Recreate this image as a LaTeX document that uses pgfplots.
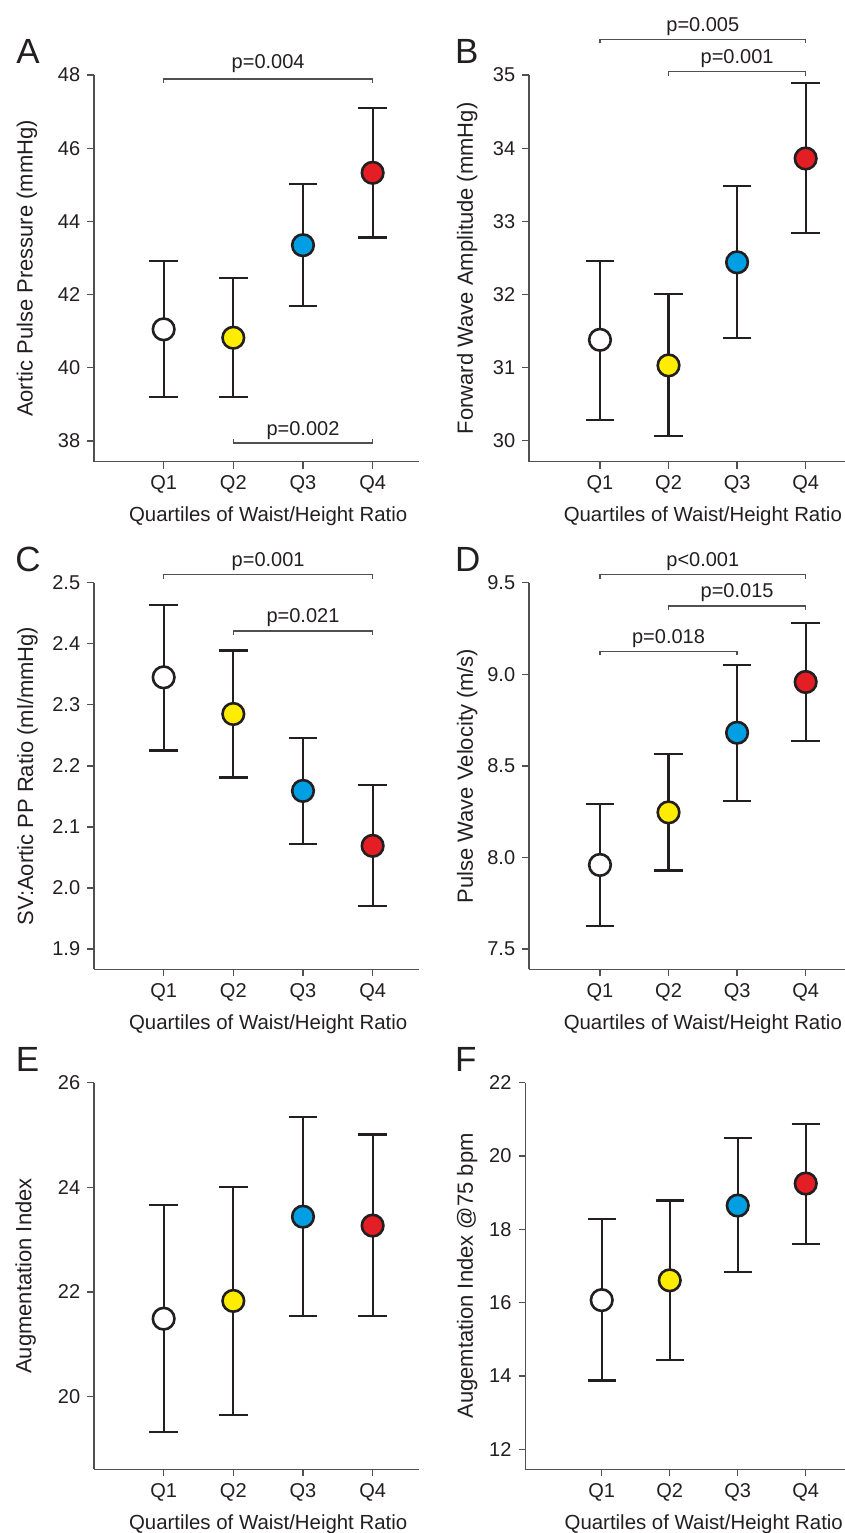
\documentclass[border=0pt]{standalone}
\usepackage{fontspec}
\setmainfont{Liberation Sans}
\usepackage{pgfplots}
\usepackage{pgfplotstable}
\pgfplotsset{compat=1.18}

\definecolor{ink}{RGB}{35,31,32}
\definecolor{axcol}{RGB}{80,80,80}
\definecolor{qyellow}{RGB}{255,237,0}
\definecolor{qblue}{RGB}{0,159,227}
\definecolor{qred}{RGB}{227,30,36}

% mean, upper and lower end of the bar, quartile class
\pgfplotstableread{
x y hi lo c
1 41.05 42.91 39.19 q1
2 40.82 42.46 39.19 q2
3 43.35 45.03 41.68 q3
4 45.33 47.10 43.56 q4
}\tabA
\pgfplotstableread{
x y hi lo c
1 31.38 32.46 30.28 q1
2 31.03 32.01 30.06 q2
3 32.44 33.48 31.40 q3
4 33.86 34.89 32.84 q4
}\tabB
\pgfplotstableread{
x y hi lo c
1 2.345 2.464 2.225 q1
2 2.285 2.389 2.181 q2
3 2.159 2.245 2.072 q3
4 2.069 2.168 1.970 q4
}\tabC
\pgfplotstableread{
x y hi lo c
1 7.959 8.290 7.626 q1
2 8.246 8.563 7.929 q2
3 8.681 9.052 8.308 q3
4 8.958 9.280 8.634 q4
}\tabD
\pgfplotstableread{
x y hi lo c
1 21.49 23.66 19.33 q1
2 21.83 24.01 19.65 q2
3 23.44 25.34 21.54 q3
4 23.27 25.01 21.54 q4
}\tabE
\pgfplotstableread{
x y hi lo c
1 16.07 18.28 13.88 q1
2 16.61 18.79 14.43 q2
3 18.65 20.49 16.84 q3
4 19.25 20.88 17.60 q4
}\tabF

\pgfplotsset{
  panel/.style={
    scale only axis, clip=false,
    height=193.3pt, xmax=4.67,
    axis lines*=left,
    axis line style={draw=axcol, line width=0.65pt, -},
    tick align=outside, major tick length=3.4pt,
    tick style={draw=axcol, line width=0.65pt},
    xtick={1,2,3,4}, xticklabels={Q1,Q2,Q3,Q4},
    ticklabel style={font=\fontsize{10pt}{12pt}\selectfont, text=ink},
    xlabel={Quartiles of Waist/Height Ratio},
    xlabel style={font=\fontsize{10.2pt}{12pt}\selectfont, text=ink,
      anchor=base, yshift=-30pt},
    ylabel style={font=\fontsize{11pt}{13pt}\selectfont, text=ink,
      at={(axis description cs:0,0.5)}, anchor=center},
  },
  leftcol/.style={panel, xmin=0, width=162.65pt,
    xlabel style={at={(axis description cs:0.5353,0)}}},
  rightcol/.style={panel, xmin=-0.035, width=161.3pt,
    xlabel style={at={(axis description cs:0.5388,0)}}},
  bars/.style={only marks, mark=none, forget plot,
    error bars/.cd, y dir=both, y explicit, error mark=|,
    error bar style={draw=ink, line width=1.1pt},
    error mark options={draw=ink, line width=1.1pt, mark size=7.1pt}},
  dots/.style={scatter, only marks, scatter src=explicit symbolic,
    mark=*, mark size=5.4pt,
    mark options={draw=ink, line width=1.3pt},
    scatter/classes={
      q1={mark=*, draw=ink, fill=white},
      q2={mark=*, draw=ink, fill=qyellow},
      q3={mark=*, draw=ink, fill=qblue},
      q4={mark=*, draw=ink, fill=qred}}},
}
\tikzset{
  bracket/.style={draw=axcol, line width=0.65pt},
  plab/.style={anchor=base, inner sep=0pt, text=ink,
    font=\fontsize{10pt}{12pt}\selectfont},
  letter/.style={anchor=base west, inner sep=0pt, text=ink,
    font=\fontsize{17.5pt}{20pt}\selectfont},
}

\begin{document}
\begin{tikzpicture}
\path[use as bounding box, clip] (0,0) rectangle (422.5pt,-766.5pt);

% ---------- A
\begin{axis}[leftcol, at={(47pt,-230.85pt)}, anchor=south west,
  ymin=37.43, ymax=48, ytick={38,40,42,44,46,48},
  yticklabels={38,40,42,44,46,48},
  ylabel={Aortic Pulse Pressure (mmHg)}, ylabel style={yshift=33.5pt}]
\addplot[bars] table[x=x, y=y, y error plus expr=\thisrow{hi}-\thisrow{y},
  y error minus expr=\thisrow{y}-\thisrow{lo}] {\tabA};
\addplot[dots] table[x=x, y=y, meta=c] {\tabA};
\draw[bracket] ([yshift=-2pt]axis cs:1,47.89) -- (axis cs:1,47.89) -- (axis cs:4,47.89) -- ([yshift=-2pt]axis cs:4,47.89);
\node[plab, yshift=5.3pt] at (axis cs:2.5,47.89) {p=0.004};
\draw[bracket] ([yshift=2pt]axis cs:2,37.94) -- (axis cs:2,37.94) -- (axis cs:4,37.94) -- ([yshift=2pt]axis cs:4,37.94);
\node[plab, yshift=4pt] at (axis cs:3,37.94) {p=0.002};
\end{axis}

% ---------- B
\begin{axis}[rightcol, at={(264.5pt,-230.85pt)}, anchor=south west,
  ymin=29.713, ymax=35, ytick={30,31,32,33,34,35},
  yticklabels={30,31,32,33,34,35},
  ylabel={Forward Wave Amplitude (mmHg)}, ylabel style={yshift=30.9pt}]
\addplot[bars] table[x=x, y=y, y error plus expr=\thisrow{hi}-\thisrow{y},
  y error minus expr=\thisrow{y}-\thisrow{lo}] {\tabB};
\addplot[dots] table[x=x, y=y, meta=c] {\tabB};
\draw[bracket] ([yshift=-2pt]axis cs:1,35.49) -- (axis cs:1,35.49) -- (axis cs:4,35.49) -- ([yshift=-2pt]axis cs:4,35.49);
\node[plab, yshift=4pt] at (axis cs:2.5,35.49) {p=0.005};
\draw[bracket] ([yshift=-2pt]axis cs:2,35.045) -- (axis cs:2,35.045) -- (axis cs:4,35.045) -- ([yshift=-2pt]axis cs:4,35.045);
\node[plab, yshift=4pt] at (axis cs:3,35.045) {p=0.001};
\end{axis}

% ---------- C
\begin{axis}[leftcol, at={(47pt,-484.65pt)}, anchor=south west,
  ymin=1.8667, ymax=2.5, ytick={1.9,2.0,2.1,2.2,2.3,2.4,2.5},
  yticklabels={1.9,2.0,2.1,2.2,2.3,2.4,2.5},
  ylabel={SV:Aortic PP Ratio (ml/mmHg)}, ylabel style={yshift=33.3pt}]
\addplot[bars] table[x=x, y=y, y error plus expr=\thisrow{hi}-\thisrow{y},
  y error minus expr=\thisrow{y}-\thisrow{lo}] {\tabC};
\addplot[dots] table[x=x, y=y, meta=c] {\tabC};
\draw[bracket] ([yshift=-2pt]axis cs:1,2.513) -- (axis cs:1,2.513) -- (axis cs:4,2.513) -- ([yshift=-2pt]axis cs:4,2.513);
\node[plab, yshift=4pt] at (axis cs:2.5,2.513) {p=0.001};
\draw[bracket] ([yshift=-2pt]axis cs:2,2.421) -- (axis cs:2,2.421) -- (axis cs:4,2.421) -- ([yshift=-2pt]axis cs:4,2.421);
\node[plab, yshift=4pt] at (axis cs:3,2.421) {p=0.021};
\end{axis}

% ---------- D
\begin{axis}[rightcol, at={(264.5pt,-484.65pt)}, anchor=south west,
  ymin=7.389, ymax=9.5, ytick={7.5,8.0,8.5,9.0,9.5},
  yticklabels={7.5,8.0,8.5,9.0,9.5},
  ylabel={Pulse Wave Velocity (m/s)}, ylabel style={yshift=30.9pt}]
\addplot[bars] table[x=x, y=y, y error plus expr=\thisrow{hi}-\thisrow{y},
  y error minus expr=\thisrow{y}-\thisrow{lo}] {\tabD};
\addplot[dots] table[x=x, y=y, meta=c] {\tabD};
\draw[bracket] ([yshift=-2pt]axis cs:1,9.544) -- (axis cs:1,9.544) -- (axis cs:4,9.544) -- ([yshift=-2pt]axis cs:4,9.544);
\node[plab, yshift=4pt] at (axis cs:2.5,9.544) {p<0.001};
\draw[bracket] ([yshift=-2pt]axis cs:2,9.373) -- (axis cs:2,9.373) -- (axis cs:4,9.373) -- ([yshift=-2pt]axis cs:4,9.373);
\node[plab, yshift=4pt] at (axis cs:3,9.373) {p=0.015};
\draw[bracket] ([yshift=-2pt]axis cs:1,9.125) -- (axis cs:1,9.125) -- (axis cs:3,9.125) -- ([yshift=-2pt]axis cs:3,9.125);
\node[plab, yshift=4pt] at (axis cs:2,9.125) {p=0.018};
\end{axis}

% ---------- E
\begin{axis}[leftcol, at={(47pt,-734.65pt)}, anchor=south west,
  ymin=18.611, ymax=26, ytick={20,22,24,26},
  yticklabels={20,22,24,26},
  ylabel={Augmentation Index}, ylabel style={yshift=34.2pt}]
\addplot[bars] table[x=x, y=y, y error plus expr=\thisrow{hi}-\thisrow{y},
  y error minus expr=\thisrow{y}-\thisrow{lo}] {\tabE};
\addplot[dots] table[x=x, y=y, meta=c] {\tabE};
\end{axis}

% ---------- F
\begin{axis}[panel, xmin=-0.124, width=163pt,
  xlabel style={at={(axis description cs:0.5474,0)}},
  at={(262.65pt,-734.65pt)}, anchor=south west,
  ymin=11.455, ymax=22, ytick={12,14,16,18,20,22},
  yticklabels={12,14,16,18,20,22},
  ylabel={Augemtation Index @75 bpm}, ylabel style={yshift=29pt}]
\addplot[bars] table[x=x, y=y, y error plus expr=\thisrow{hi}-\thisrow{y},
  y error minus expr=\thisrow{y}-\thisrow{lo}] {\tabF};
\addplot[dots] table[x=x, y=y, meta=c] {\tabF};
\end{axis}

\node[letter] at (8pt,-31.65pt) {A};
\node[letter] at (227.3pt,-31.65pt) {B};
\node[letter] at (7.5pt,-285.85pt) {C};
\node[letter] at (227.3pt,-285.85pt) {D};
\node[letter] at (7.8pt,-535.85pt) {E};
\node[letter] at (227.3pt,-535.85pt) {F};
\end{tikzpicture}
\end{document}
